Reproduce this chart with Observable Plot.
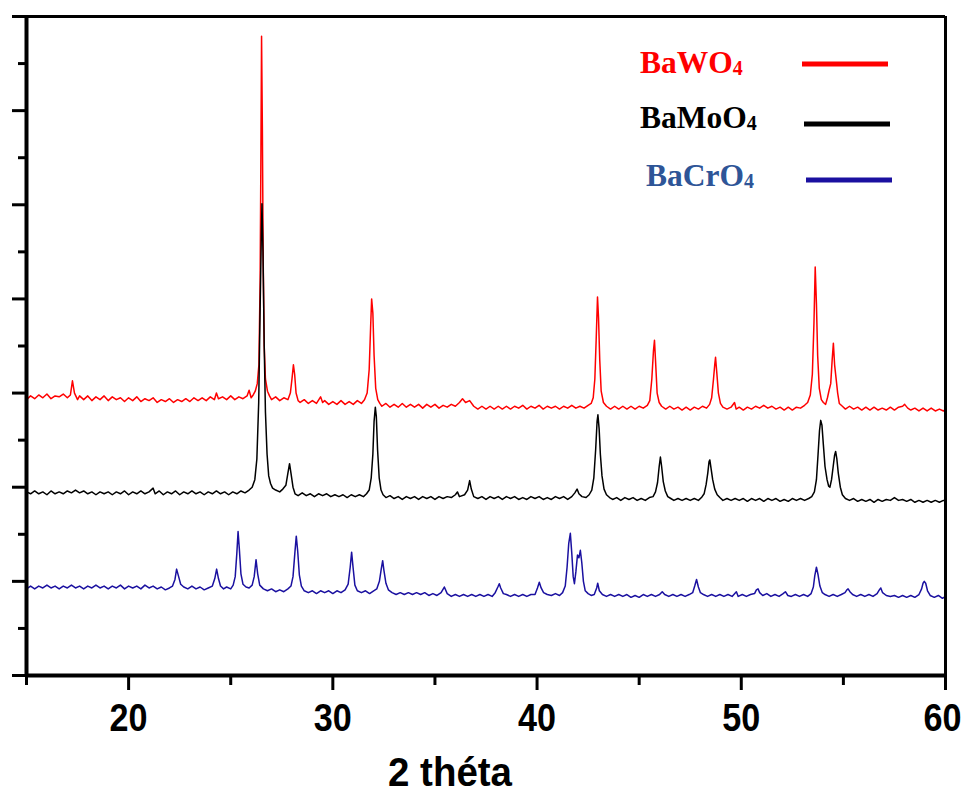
<!DOCTYPE html>
<html><head><meta charset="utf-8">
<script src="https://cdn.jsdelivr.net/npm/d3@7"></script>
<script src="https://cdn.jsdelivr.net/npm/@observablehq/plot@0.6"></script>
<style>
html,body{margin:0;padding:0;background:#fff;}
#chart{position:relative;width:967px;height:794px;}
</style></head><body><div id="chart"></div>
<script>
// ---- data (2θ in degrees, intensity in arbitrary offset units) ----
const seriesNames = ["BaWO4", "BaMoO4", "BaCrO4"];
const lineColors = ["#ff0000", "#000000", "#1a10a0"];
const textColors = ["#ff0000", "#000000", "#2e5597"];
const xMajorTicks = [20, 30, 40, 50, 60];
const xMinorTicks = [15, 25, 35, 45, 55];
const yMajorTicks = [0, 1, 2, 3, 4, 5, 6, 7];
const yMinorTicks = [0.5, 1.5, 2.5, 3.5, 4.5, 5.5, 6.5];
const xAxisTitle = "2 théta";

const bawo4 = [[15.0,2.93],[15.2,2.97],[15.4,2.94],[15.6,2.98],[15.8,2.95],[16.0,2.99],[16.2,2.94],[16.4,2.97],[16.6,2.96],[16.8,2.99],[17.0,2.95],[17.15,2.98],[17.25,3.13],[17.35,3.0],[17.5,2.93],[17.6,2.97],[17.8,2.93],[18.0,2.97],[18.2,2.92],[18.4,2.96],[18.6,2.93],[18.8,2.97],[19.0,2.92],[19.2,2.96],[19.4,2.93],[19.6,2.95],[19.8,2.91],[20.0,2.95],[20.2,2.92],[20.4,2.96],[20.6,2.91],[20.8,2.94],[21.0,2.92],[21.2,2.95],[21.4,2.9],[21.6,2.93],[21.8,2.91],[22.0,2.94],[22.2,2.9],[22.4,2.93],[22.6,2.91],[22.8,2.94],[23.0,2.91],[23.2,2.95],[23.4,2.92],[23.6,2.95],[23.8,2.92],[24.0,2.96],[24.2,2.93],[24.3,3.0],[24.4,2.94],[24.6,2.96],[24.8,2.93],[25.0,2.97],[25.2,2.93],[25.4,2.96],[25.6,2.94],[25.8,2.97],[25.9,3.03],[26.0,2.95],[26.1,2.98],[26.2,3.02],[26.3,3.1],[26.38,3.3],[26.44,4.2],[26.48,5.6],[26.51,6.79],[26.55,5.8],[26.59,4.4],[26.64,3.5],[26.7,3.15],[26.8,3.02],[26.9,2.97],[27.0,2.93],[27.2,2.96],[27.4,2.92],[27.6,2.95],[27.8,2.93],[27.92,3.0],[28.0,3.15],[28.07,3.3],[28.13,3.2],[28.2,3.0],[28.3,2.92],[28.4,2.9],[28.6,2.93],[28.8,2.89],[29.0,2.92],[29.2,2.89],[29.4,2.96],[29.5,2.9],[29.6,2.92],[29.8,2.88],[30.0,2.91],[30.2,2.88],[30.4,2.92],[30.6,2.88],[30.8,2.91],[31.0,2.88],[31.2,2.92],[31.4,2.89],[31.55,2.93],[31.68,3.0],[31.78,3.25],[31.85,3.7],[31.9,4.0],[31.96,3.85],[32.02,3.4],[32.1,3.05],[32.2,2.93],[32.3,2.89],[32.4,2.86],[32.6,2.89],[32.8,2.85],[33.0,2.88],[33.2,2.85],[33.4,2.89],[33.6,2.85],[33.8,2.88],[34.0,2.85],[34.2,2.88],[34.4,2.84],[34.6,2.88],[34.8,2.85],[35.0,2.88],[35.2,2.84],[35.4,2.87],[35.6,2.85],[35.8,2.88],[36.0,2.86],[36.2,2.9],[36.35,2.94],[36.5,2.9],[36.7,2.92],[36.9,2.86],[37.1,2.83],[37.3,2.86],[37.5,2.83],[37.7,2.86],[37.9,2.83],[38.1,2.86],[38.3,2.83],[38.5,2.86],[38.7,2.83],[38.9,2.86],[39.1,2.84],[39.3,2.87],[39.5,2.83],[39.7,2.86],[39.9,2.84],[40.1,2.87],[40.3,2.83],[40.5,2.86],[40.7,2.84],[40.9,2.86],[41.1,2.83],[41.3,2.86],[41.5,2.84],[41.7,2.87],[41.9,2.84],[42.1,2.86],[42.3,2.84],[42.5,2.87],[42.65,2.89],[42.75,2.95],[42.83,3.15],[42.9,3.6],[42.96,4.02],[43.01,3.8],[43.07,3.35],[43.14,3.02],[43.25,2.9],[43.4,2.86],[43.6,2.83],[43.8,2.86],[44.0,2.83],[44.2,2.86],[44.4,2.83],[44.6,2.86],[44.8,2.83],[45.0,2.86],[45.2,2.84],[45.4,2.87],[45.52,2.92],[45.62,3.15],[45.7,3.45],[45.75,3.56],[45.8,3.35],[45.88,3.0],[45.98,2.9],[46.1,2.86],[46.3,2.83],[46.5,2.86],[46.7,2.83],[46.9,2.85],[47.1,2.82],[47.3,2.85],[47.5,2.82],[47.7,2.85],[47.9,2.83],[48.1,2.86],[48.3,2.84],[48.45,2.88],[48.55,2.95],[48.64,3.15],[48.7,3.3],[48.74,3.38],[48.8,3.22],[48.88,3.0],[48.98,2.89],[49.1,2.85],[49.3,2.83],[49.5,2.85],[49.67,2.9],[49.75,2.83],[49.9,2.85],[50.1,2.82],[50.3,2.85],[50.5,2.83],[50.7,2.86],[50.9,2.84],[51.1,2.87],[51.3,2.84],[51.5,2.86],[51.7,2.83],[51.9,2.85],[52.1,2.82],[52.3,2.85],[52.5,2.82],[52.7,2.85],[52.9,2.84],[53.1,2.87],[53.25,2.9],[53.38,2.98],[53.48,3.2],[53.56,3.75],[53.62,4.34],[53.68,3.95],[53.74,3.4],[53.82,3.05],[53.92,2.93],[54.02,2.9],[54.13,2.88],[54.22,2.95],[54.3,3.03],[54.38,3.1],[54.45,3.35],[54.51,3.53],[54.57,3.3],[54.65,3.14],[54.72,3.0],[54.8,2.89],[54.95,2.86],[55.1,2.83],[55.3,2.86],[55.5,2.83],[55.7,2.85],[55.9,2.82],[56.1,2.85],[56.3,2.82],[56.5,2.85],[56.7,2.82],[56.9,2.84],[57.1,2.82],[57.3,2.85],[57.5,2.82],[57.7,2.85],[57.9,2.86],[58.0,2.88],[58.15,2.84],[58.3,2.82],[58.5,2.84],[58.7,2.81],[58.9,2.84],[59.1,2.81],[59.3,2.84],[59.5,2.81],[59.7,2.83],[59.9,2.81],[60.0,2.83]];

const bamoo4 = [[15.0,1.95],[15.2,1.93],[15.4,1.96],[15.6,1.93],[15.8,1.95],[16.0,1.92],[16.2,1.96],[16.4,1.93],[16.6,1.95],[16.8,1.93],[17.0,1.96],[17.2,1.94],[17.4,1.97],[17.6,1.94],[17.8,1.96],[18.0,1.93],[18.2,1.95],[18.4,1.92],[18.6,1.95],[18.8,1.93],[19.0,1.95],[19.2,1.92],[19.4,1.95],[19.6,1.93],[19.8,1.96],[20.0,1.92],[20.2,1.95],[20.4,1.93],[20.6,1.96],[20.8,1.93],[21.0,1.95],[21.2,1.99],[21.3,1.93],[21.5,1.96],[21.7,1.92],[21.9,1.95],[22.1,1.93],[22.3,1.96],[22.5,1.92],[22.7,1.95],[22.9,1.93],[23.1,1.96],[23.3,1.93],[23.5,1.95],[23.7,1.92],[23.9,1.95],[24.1,1.93],[24.3,1.96],[24.5,1.93],[24.7,1.95],[24.9,1.92],[25.1,1.95],[25.3,1.93],[25.5,1.96],[25.7,1.94],[25.9,1.97],[26.05,2.0],[26.18,2.08],[26.28,2.3],[26.37,2.9],[26.44,3.9],[26.5,4.7],[26.53,5.01],[26.58,4.5],[26.64,3.5],[26.7,2.8],[26.78,2.35],[26.86,2.12],[26.95,2.04],[27.05,1.99],[27.2,1.97],[27.4,1.95],[27.55,1.98],[27.7,2.02],[27.8,2.15],[27.88,2.25],[27.95,2.15],[28.05,2.0],[28.15,1.93],[28.3,1.91],[28.5,1.94],[28.7,1.91],[28.9,1.93],[29.1,1.9],[29.3,1.93],[29.5,1.91],[29.7,1.93],[29.9,1.9],[30.1,1.92],[30.3,1.9],[30.5,1.92],[30.7,1.89],[30.9,1.92],[31.1,1.9],[31.3,1.92],[31.5,1.9],[31.65,1.93],[31.78,1.97],[31.88,2.1],[31.96,2.35],[32.02,2.7],[32.08,2.85],[32.13,2.75],[32.19,2.4],[32.27,2.1],[32.36,1.97],[32.46,1.92],[32.6,1.89],[32.8,1.91],[33.0,1.88],[33.2,1.9],[33.4,1.87],[33.6,1.9],[33.8,1.88],[34.0,1.9],[34.2,1.87],[34.4,1.9],[34.6,1.88],[34.8,1.9],[35.0,1.87],[35.2,1.9],[35.4,1.88],[35.6,1.9],[35.8,1.89],[36.0,1.92],[36.1,1.95],[36.2,1.9],[36.45,1.92],[36.6,1.97],[36.7,2.07],[36.78,1.98],[36.9,1.9],[37.1,1.88],[37.3,1.9],[37.5,1.87],[37.7,1.9],[37.9,1.88],[38.1,1.9],[38.3,1.87],[38.5,1.9],[38.7,1.88],[38.9,1.9],[39.1,1.87],[39.3,1.89],[39.5,1.87],[39.7,1.9],[39.9,1.88],[40.1,1.9],[40.3,1.87],[40.5,1.89],[40.7,1.87],[40.9,1.9],[41.1,1.88],[41.3,1.9],[41.5,1.87],[41.7,1.9],[41.85,1.94],[41.96,1.98],[42.05,1.93],[42.2,1.9],[42.4,1.89],[42.55,1.92],[42.68,1.97],[42.78,2.1],[42.87,2.4],[42.94,2.7],[42.98,2.77],[43.04,2.62],[43.1,2.35],[43.18,2.12],[43.28,1.98],[43.4,1.92],[43.55,1.89],[43.7,1.87],[43.9,1.89],[44.1,1.86],[44.3,1.89],[44.5,1.87],[44.7,1.89],[44.9,1.86],[45.1,1.88],[45.3,1.86],[45.5,1.89],[45.68,1.9],[45.8,1.95],[45.9,2.05],[45.98,2.22],[46.04,2.32],[46.1,2.22],[46.18,2.06],[46.28,1.96],[46.4,1.9],[46.55,1.88],[46.7,1.86],[46.9,1.88],[47.1,1.86],[47.3,1.88],[47.5,1.86],[47.7,1.88],[47.9,1.86],[48.05,1.89],[48.18,1.93],[48.28,2.03],[48.36,2.15],[48.42,2.27],[48.46,2.29],[48.52,2.2],[48.6,2.08],[48.7,1.98],[48.82,1.92],[48.95,1.89],[49.1,1.86],[49.3,1.88],[49.5,1.86],[49.7,1.88],[49.9,1.86],[50.1,1.88],[50.3,1.85],[50.5,1.88],[50.7,1.86],[50.9,1.88],[51.1,1.85],[51.3,1.88],[51.5,1.86],[51.7,1.88],[51.9,1.85],[52.1,1.87],[52.3,1.85],[52.5,1.88],[52.7,1.86],[52.9,1.88],[53.1,1.86],[53.3,1.88],[53.45,1.9],[53.58,1.95],[53.68,2.08],[53.76,2.35],[53.83,2.6],[53.89,2.71],[53.95,2.66],[54.02,2.45],[54.1,2.22],[54.2,2.08],[54.28,2.01],[54.34,2.0],[54.42,2.08],[54.5,2.22],[54.57,2.34],[54.62,2.38],[54.68,2.3],[54.75,2.15],[54.85,2.0],[54.95,1.92],[55.1,1.88],[55.3,1.86],[55.5,1.88],[55.7,1.85],[55.9,1.87],[56.1,1.85],[56.3,1.87],[56.5,1.84],[56.7,1.87],[56.9,1.85],[57.1,1.87],[57.3,1.86],[57.5,1.89],[57.7,1.86],[57.9,1.87],[58.1,1.85],[58.3,1.87],[58.5,1.84],[58.7,1.86],[58.9,1.84],[59.1,1.86],[59.3,1.84],[59.5,1.86],[59.7,1.84],[59.9,1.86],[60.0,1.85]];

const bacro4 = [[15.0,0.92],[15.2,0.95],[15.4,0.92],[15.6,0.95],[15.8,0.93],[16.0,0.96],[16.2,0.93],[16.4,0.95],[16.6,0.92],[16.8,0.95],[17.0,0.93],[17.2,0.96],[17.4,0.93],[17.6,0.95],[17.8,0.92],[18.0,0.95],[18.2,0.93],[18.4,0.96],[18.6,0.93],[18.8,0.95],[19.0,0.92],[19.2,0.95],[19.4,0.93],[19.6,0.96],[19.8,0.92],[20.0,0.95],[20.2,0.93],[20.4,0.95],[20.6,0.92],[20.8,0.96],[21.0,0.93],[21.2,0.95],[21.4,0.92],[21.6,0.94],[21.8,0.91],[22.0,0.93],[22.15,0.95],[22.27,1.02],[22.35,1.13],[22.45,1.05],[22.55,0.97],[22.7,0.94],[22.9,0.92],[23.1,0.95],[23.3,0.92],[23.5,0.94],[23.7,0.91],[23.9,0.93],[24.1,0.95],[24.22,1.03],[24.31,1.13],[24.4,1.03],[24.5,0.95],[24.65,0.92],[24.8,0.94],[25.0,0.92],[25.12,0.96],[25.22,1.05],[25.3,1.3],[25.36,1.53],[25.42,1.35],[25.5,1.08],[25.6,0.97],[25.75,0.94],[25.9,0.93],[26.05,0.96],[26.15,1.05],[26.24,1.23],[26.32,1.08],[26.42,0.96],[26.6,0.92],[26.8,0.9],[27.0,0.92],[27.2,0.89],[27.4,0.91],[27.6,0.89],[27.8,0.92],[27.95,0.95],[28.05,1.05],[28.14,1.3],[28.21,1.48],[28.28,1.32],[28.36,1.07],[28.46,0.95],[28.6,0.9],[28.8,0.88],[29.0,0.9],[29.2,0.87],[29.4,0.9],[29.6,0.88],[29.8,0.9],[30.0,0.87],[30.2,0.9],[30.4,0.88],[30.6,0.91],[30.75,0.97],[30.85,1.15],[30.92,1.31],[30.99,1.15],[31.08,0.96],[31.2,0.9],[31.4,0.88],[31.6,0.9],[31.8,0.87],[32.0,0.9],[32.15,0.92],[32.28,1.0],[32.37,1.13],[32.44,1.22],[32.5,1.12],[32.6,0.98],[32.72,0.91],[32.9,0.88],[33.1,0.86],[33.3,0.88],[33.5,0.86],[33.7,0.88],[33.9,0.86],[34.1,0.88],[34.3,0.86],[34.5,0.88],[34.7,0.85],[34.9,0.87],[35.1,0.85],[35.3,0.88],[35.46,0.94],[35.6,0.87],[35.8,0.84],[36.0,0.86],[36.2,0.84],[36.4,0.86],[36.6,0.84],[36.8,0.86],[37.0,0.84],[37.2,0.86],[37.4,0.84],[37.6,0.86],[37.8,0.84],[37.95,0.88],[38.08,0.94],[38.15,0.975],[38.22,0.93],[38.35,0.87],[38.5,0.86],[38.7,0.84],[38.9,0.86],[39.1,0.84],[39.3,0.86],[39.5,0.84],[39.7,0.86],[39.9,0.86],[40.02,0.93],[40.11,0.99],[40.2,0.93],[40.32,0.88],[40.5,0.86],[40.7,0.85],[40.9,0.87],[41.1,0.85],[41.25,0.88],[41.38,0.95],[41.47,1.15],[41.55,1.4],[41.63,1.51],[41.7,1.3],[41.77,1.05],[41.83,0.975],[41.9,1.1],[41.98,1.28],[42.05,1.25],[42.12,1.33],[42.19,1.2],[42.27,1.0],[42.36,0.9],[42.5,0.87],[42.65,0.85],[42.8,0.86],[42.92,0.93],[42.97,0.98],[43.05,0.9],[43.2,0.86],[43.4,0.84],[43.6,0.86],[43.8,0.84],[44.0,0.86],[44.2,0.84],[44.4,0.86],[44.6,0.83],[44.8,0.85],[45.0,0.83],[45.2,0.86],[45.4,0.84],[45.6,0.86],[45.8,0.84],[46.0,0.86],[46.13,0.89],[46.25,0.86],[46.45,0.84],[46.65,0.86],[46.85,0.84],[47.05,0.86],[47.25,0.84],[47.45,0.86],[47.62,0.88],[47.72,0.95],[47.81,1.02],[47.9,0.94],[48.0,0.88],[48.15,0.86],[48.35,0.84],[48.55,0.86],[48.75,0.84],[48.95,0.86],[49.15,0.84],[49.35,0.86],[49.55,0.84],[49.76,0.89],[49.85,0.84],[50.05,0.86],[50.25,0.84],[50.45,0.86],[50.65,0.87],[50.74,0.91],[50.82,0.92],[50.9,0.88],[51.05,0.85],[51.25,0.87],[51.45,0.84],[51.65,0.86],[51.85,0.84],[52.05,0.87],[52.16,0.89],[52.28,0.85],[52.45,0.84],[52.65,0.86],[52.85,0.84],[53.05,0.86],[53.25,0.84],[53.42,0.87],[53.53,0.94],[53.6,1.06],[53.68,1.15],[53.76,1.07],[53.85,0.95],[53.97,0.88],[54.1,0.86],[54.3,0.84],[54.5,0.86],[54.7,0.84],[54.9,0.86],[55.08,0.88],[55.17,0.91],[55.23,0.92],[55.32,0.89],[55.45,0.86],[55.65,0.84],[55.85,0.86],[56.05,0.84],[56.25,0.86],[56.45,0.84],[56.65,0.87],[56.76,0.91],[56.83,0.93],[56.92,0.88],[57.1,0.85],[57.3,0.84],[57.5,0.85],[57.7,0.83],[57.9,0.85],[58.1,0.83],[58.3,0.85],[58.5,0.83],[58.7,0.86],[58.83,0.92],[58.9,0.98],[58.96,1.0],[59.03,0.98],[59.12,0.9],[59.25,0.85],[59.45,0.83],[59.65,0.85],[59.85,0.82],[60.0,0.84]];

const seriesData = [bawo4, bamoo4, bacro4];

// ---- chart ----
const tickFont = "'Liberation Sans Narrow','Arial Narrow','Liberation Sans',Arial,sans-serif";
const legendFont = "'Liberation Serif','Times New Roman',serif";

const lineMarks = seriesData.map((data, i) =>
  Plot.line(data, {x: d => d[0], y: d => d[1], stroke: lineColors[i], strokeWidth: 1.5})
);

const chart = Plot.plot({
  width: 967,
  height: 794,
  marginLeft: 26,
  marginRight: 22,
  marginTop: 16,
  marginBottom: 119,
  style: {background: "#fff", overflow: "visible"},
  x: {domain: [15, 60]},
  y: {domain: [0, 7]},
  marks: [
    ...lineMarks,
    Plot.axisX(xMinorTicks, {tickSize: 10, tickFormat: () => "", strokeWidth: 3, label: null}),
    Plot.axisX(xMajorTicks, {tickSize: 15, tickPadding: 14, tickFormat: d => String(d), strokeWidth: 3,
      fontSize: 38, fontWeight: "bold", fontFamily: tickFont, fill: "#000", label: null}),
    Plot.axisY(yMinorTicks, {tickSize: 8, tickFormat: () => "", strokeWidth: 3, label: null}),
    Plot.axisY(yMajorTicks, {tickSize: 14, tickFormat: () => "", strokeWidth: 3, label: null}),
    Plot.ruleX([15], {stroke: "#000", strokeWidth: 4}),
    Plot.ruleY([0], {stroke: "#000", strokeWidth: 4}),
    Plot.ruleY([7], {stroke: "#000", strokeWidth: 3}),
    Plot.ruleX([60], {stroke: "#000", strokeWidth: 3}),
    Plot.text([xAxisTitle], {frameAnchor: "bottom", dx: -36, dy: 98, lineAnchor: "middle",
      fontSize: 40, fontWeight: "bold", fontFamily: tickFont, fill: "#000"})
  ]
});

document.getElementById("chart").appendChild(chart);

// condense the sans-serif labels to the narrow look of the original
const svg = d3.select(chart);
const tickLabels = svg.selectAll('g[aria-label="x-axis tick label"] text')
  .attr("textLength", 38).attr("lengthAdjust", "spacingAndGlyphs");
// keep the last label ("60") inside the picture's right edge
d3.select(tickLabels.nodes()[tickLabels.size() - 1]).attr("dx", -3);
svg.selectAll('g[aria-label="text"] text')
  .attr("textLength", 124).attr("lengthAdjust", "spacingAndGlyphs");

// ---- legend (text with subscript + swatch line) ----
const legendLayout = [
  {tx: 640, ty: 73, x1: 802, x2: 888, ly: 64},
  {tx: 640, ty: 128, x1: 804, x2: 890, ly: 124},
  {tx: 646, ty: 186, x1: 806, x2: 892, ly: 180}
];
const lg = svg.append("g").attr("class", "legend").attr("text-anchor", "start");
seriesNames.forEach((name, i) => {
  const L = legendLayout[i];
  const t = lg.append("text")
    .attr("x", L.tx).attr("y", L.ty)
    .attr("text-anchor", "start")
    .attr("fill", textColors[i])
    .attr("font-family", legendFont)
    .attr("font-weight", "bold")
    .attr("font-size", 31.5);
  t.append("tspan").text(name.slice(0, -1));
  t.append("tspan").attr("font-size", 20).attr("dy", 2).text(name.slice(-1));
  lg.append("line")
    .attr("x1", L.x1).attr("x2", L.x2).attr("y1", L.ly).attr("y2", L.ly)
    .attr("stroke", lineColors[i]).attr("stroke-width", 5);
});
</script></body></html>
